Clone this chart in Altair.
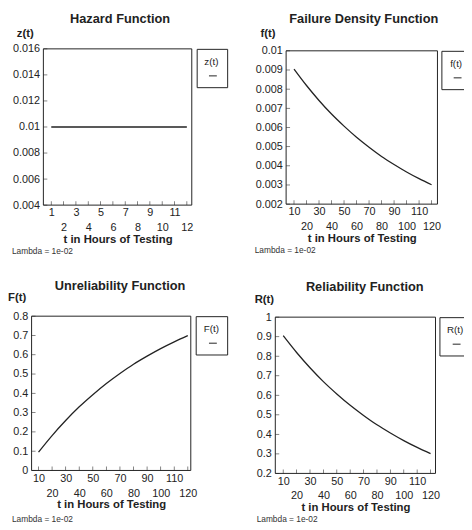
import altair as alt
import pandas as pd

FONT = "Liberation Sans"
INK = "#222222"

# ---- data ----
hz_t = [1, 2, 3, 4, 5, 6, 7, 8, 9, 10, 11, 12]
hz_z = [0.01, 0.01, 0.01, 0.01, 0.01, 0.01, 0.01, 0.01, 0.01, 0.01, 0.01, 0.01]

t_hours = [10, 20, 30, 40, 50, 60, 70, 80, 90, 100, 110, 120]
f_vals = [0.00905, 0.00819, 0.00741, 0.00670, 0.00607, 0.00549,
          0.00497, 0.00449, 0.00407, 0.00368, 0.00333, 0.00301]
F_vals = [0.095, 0.181, 0.259, 0.330, 0.393, 0.451,
          0.503, 0.551, 0.593, 0.632, 0.667, 0.699]
R_vals = [0.905, 0.819, 0.741, 0.670, 0.607, 0.549,
          0.497, 0.449, 0.407, 0.368, 0.333, 0.301]

x_ticks_hz = [1, 2, 3, 4, 5, 6, 7, 8, 9, 10, 11, 12]
x_ticks_t = [10, 20, 30, 40, 50, 60, 70, 80, 90, 100, 110, 120]
y_ticks_z = [0.004, 0.006, 0.008, 0.01, 0.012, 0.014, 0.016]
y_ticks_f = [0.002, 0.003, 0.004, 0.005, 0.006, 0.007, 0.008, 0.009, 0.01]
y_ticks_F = [0, 0.1, 0.2, 0.3, 0.4, 0.5, 0.6, 0.7, 0.8]
y_ticks_R = [0.2, 0.3, 0.4, 0.5, 0.6, 0.7, 0.8, 0.9, 1]

titles = ["Hazard Function", "Failure Density Function",
          "Unreliability Function", "Reliability Function"]
names = ["z(t)", "f(t)", "F(t)", "R(t)"]
footnote = "Lambda = 1e-02"
x_title = "t in Hours of Testing"

W, H = 464, 522


def txt(s, x, y, size, weight="normal", align="left", color=INK):
    return alt.Chart(pd.DataFrame({"s": [s]})).mark_text(
        font=FONT, fontSize=size, fontWeight=weight, color=color,
        align=align, baseline="middle",
    ).encode(text="s:N", x=alt.value(x), y=alt.value(y))


def panel(t, v, name, xdom, ydom, xticks, yticks, even_test, box, leg_xy):
    left, right, top, bottom = box
    xs = alt.Scale(domain=xdom, range=[left, right], nice=False, zero=False)
    ys = alt.Scale(domain=ydom, range=[bottom, top], nice=False, zero=False)
    xaxis = alt.Axis(
        orient="bottom", offset=bottom - H, values=xticks, ticks=False, domain=False,
        grid=False, labelFont=FONT, labelFontSize=11, labelColor=INK,
        labelPadding={"condition": {"test": even_test, "value": 17}, "value": 2},
        labelOverlap=False, labelFlush=False,
        title=x_title, titleFont=FONT, titleFontSize=11.5, titleFontWeight="bold",
        titleColor=INK, titleY=35, titleBaseline="middle",
    )
    yaxis = alt.Axis(
        orient="left", offset=-left, values=yticks, format="~g", ticks=False,
        domain=False, grid=False, labelFont=FONT, labelFontSize=11, labelColor=INK,
        labelPadding=4, labelOverlap=False, labelFlush=False, title=None,
    )
    legend = alt.Legend(
        orient="none", legendX=leg_xy[0], legendY=leg_xy[1],
        title=name, titleFont=FONT, titleFontSize=10, titleFontWeight="normal",
        titleColor=INK, titleAnchor="middle", titleAlign="center", titlePadding=5,
        labelExpr="''", labelOffset=0, labelFontSize=6,
        symbolType="stroke", symbolSize=64, symbolStrokeWidth=1,
        symbolStrokeColor=INK, symbolOffset=4,
        padding=8, strokeColor=INK,
    )
    df = pd.DataFrame({"t": t, "v": v, "series": name})
    frame_df = pd.DataFrame({"x0": [xdom[0]], "x1": [xdom[1]], "y0": [ydom[0]], "y1": [ydom[1]]})
    xt_df = pd.DataFrame({"t": xticks, "v": [ydom[0]] * len(xticks)})
    yt_df = pd.DataFrame({"t": [xdom[0]] * len(yticks), "v": yticks})

    frame = alt.Chart(frame_df).mark_rect(filled=False, stroke=INK, strokeWidth=1).encode(
        x=alt.X("x0:Q", scale=xs, axis=xaxis), x2="x1:Q",
        y=alt.Y("y0:Q", scale=ys, axis=yaxis), y2="y1:Q",
    )
    line = alt.Chart(df).mark_line(strokeWidth=1.3, interpolate="monotone").encode(
        x=alt.X("t:Q", scale=xs, axis=xaxis),
        y=alt.Y("v:Q", scale=ys, axis=yaxis),
        color=alt.Color("series:N", scale=alt.Scale(range=[INK]), legend=legend),
    )
    xt = alt.Chart(xt_df).mark_tick(orient="vertical", size=4, thickness=0.8,
                                    color=INK, yOffset=-2).encode(
        x=alt.X("t:Q", scale=xs, axis=xaxis), y=alt.Y("v:Q", scale=ys, axis=yaxis)
    )
    yt = alt.Chart(yt_df).mark_tick(orient="horizontal", size=4, thickness=0.8,
                                    color=INK, xOffset=2).encode(
        x=alt.X("t:Q", scale=xs, axis=xaxis), y=alt.Y("v:Q", scale=ys, axis=yaxis)
    )
    return alt.layer(frame, line, xt, yt)


p1 = panel(hz_t, hz_z, names[0], [0.36, 12.4], [0.004, 0.016], x_ticks_hz, y_ticks_z,
           "datum.value % 2 === 0", (36, 187, 37, 196), (192, 37))
p2 = panel(t_hours, f_vals, names[1], [3.7, 124.7], [0.002, 0.01], x_ticks_t, y_ticks_f,
           "datum.value % 20 === 0", (283, 437, 39, 195), (441, 39))
p3 = panel(t_hours, F_vals, names[2], [4.9, 122.2], [0, 0.8], x_ticks_t, y_ticks_F,
           "datum.value % 20 === 0", (24, 186, 309, 466), (191, 309))
p4 = panel(t_hours, R_vals, names[3], [4.1, 123.7], [0.2, 1], x_ticks_t, y_ticks_R,
           "datum.value % 20 === 0", (272, 435, 310, 469), (439, 310))

texts = alt.layer(
    txt(titles[0], 114, 7, 13, "bold", "center"),
    txt(titles[1], 362, 7, 13, "bold", "center"),
    txt(titles[2], 114, 278, 13, "bold", "center"),
    txt(titles[3], 363, 279, 13, "bold", "center"),
    txt(names[0], 9, 22, 11.5, "bold"),
    txt(names[1], 257, 22, 11.5, "bold"),
    txt(names[2], 0, 291, 11.5, "bold"),
    txt(names[3], 251, 293, 11.5, "bold"),
    txt(footnote, 4, 243, 8.5, color="#333333"),
    txt(footnote, 251, 242, 8.5, color="#333333"),
    txt(footnote, 4, 515, 8.5, color="#333333"),
    txt(footnote, 253, 515, 8.5, color="#333333"),
)

chart = alt.layer(p1, p2, p3, p4, texts).resolve_scale(
    x="independent", y="independent", color="independent"
).properties(
    width=W, height=H, autosize=alt.AutoSizeParams(type="none"),
    padding={"left": 0, "top": 0, "right": 0, "bottom": 0}, background="white",
).configure_view(stroke="transparent")

chart.save("out.html", embed_options={"renderer": "svg", "actions": False})
